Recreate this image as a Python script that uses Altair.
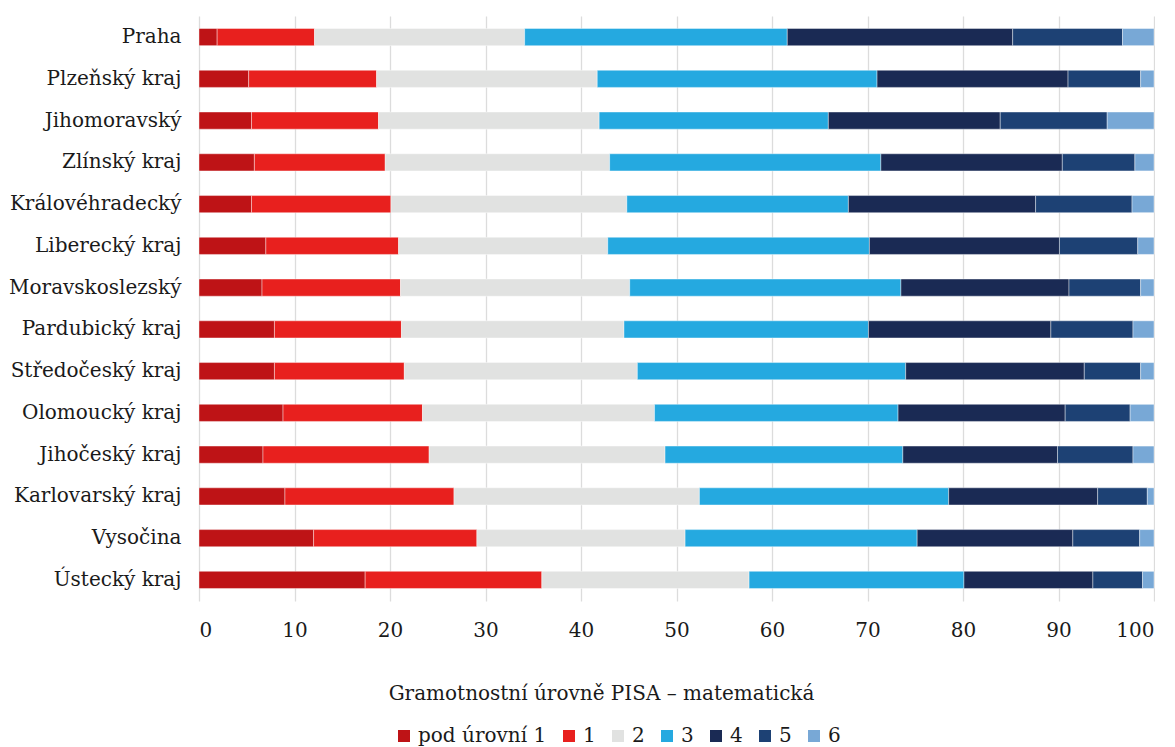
import altair as alt
import pandas as pd

regions = ["Praha", "Plzeňský kraj", "Jihomoravský", "Zlínský kraj", "Královéhradecký",
           "Liberecký kraj", "Moravskoslezský", "Pardubický kraj", "Středočeský kraj",
           "Olomoucký kraj", "Jihočeský kraj", "Karlovarský kraj", "Vysočina", "Ústecký kraj"]
levels = ["pod úrovní 1", "1", "2", "3", "4", "5", "6"]
colors = ["#BE1316", "#E8201E", "#E1E2E1", "#25A9E0", "#1A2A54", "#1D4174", "#78A8D6"]

lvl_pod1 = [1.9, 5.2, 5.5, 5.8, 5.5, 7.0, 6.6, 7.9, 7.9, 8.8, 6.7, 9.0, 12.0, 17.4]
lvl_1 = [10.2, 13.4, 13.3, 13.7, 14.6, 13.9, 14.5, 13.3, 13.6, 14.6, 17.4, 17.7, 17.1, 18.5]
lvl_2 = [22.0, 23.1, 23.1, 23.5, 24.7, 21.9, 24.0, 23.3, 24.4, 24.3, 24.7, 25.7, 21.8, 21.7]
lvl_3 = [27.5, 29.3, 24.0, 28.4, 23.2, 27.4, 28.4, 25.6, 28.1, 25.5, 24.9, 26.1, 24.3, 22.5]
lvl_4 = [23.6, 20.0, 18.0, 19.0, 19.6, 19.9, 17.6, 19.1, 18.7, 17.5, 16.2, 15.6, 16.3, 13.5]
lvl_5 = [11.5, 7.6, 11.2, 7.6, 10.1, 8.2, 7.5, 8.6, 5.9, 6.8, 7.9, 5.2, 7.0, 5.2]
lvl_6 = [3.3, 1.4, 4.9, 2.0, 2.3, 1.7, 1.4, 2.2, 1.4, 2.5, 2.2, 0.7, 1.5, 1.2]

series = [lvl_pod1, lvl_1, lvl_2, lvl_3, lvl_4, lvl_5, lvl_6]
rows = []
for li, (lvl, vals) in enumerate(zip(levels, series)):
    for r, v in zip(regions, vals):
        rows.append({"kraj": r, "uroven": lvl, "podil": v, "poradi": li})
df = pd.DataFrame(rows)

FONT = "DejaVu Serif"
FS = 20
TXT = "#1a1a1a"

chart = alt.Chart(df).mark_bar(stroke="white", strokeWidth=0.8, strokeOpacity=0.5).encode(
    y=alt.Y("kraj:N", sort=regions,
            scale=alt.Scale(paddingInner=0.59, paddingOuter=0.3),
            axis=alt.Axis(title=None, ticks=False, domain=False, labelPadding=18,
                          labelFont=FONT, labelFontSize=FS, labelColor=TXT, labelLimit=300)),
    x=alt.X("podil:Q", stack="zero",
            scale=alt.Scale(domain=[0, 100], nice=False),
            axis=alt.Axis(values=list(range(0, 101, 10)), ticks=False, domain=False,
                          grid=True, gridColor="#dcdcdc", gridWidth=1.3,
                          labelPadding=19, labelFont=FONT, labelFontSize=FS, labelColor=TXT,
                          title="Gramotnostní úrovně PISA – matematická",
                          titleFont=FONT, titleFontSize=FS, titleFontWeight="normal",
                          titleColor=TXT, titleX=402, titleY=98, titleAlign="center",
                          titleBaseline="alphabetic")),
    color=alt.Color("uroven:N", sort=levels,
                    scale=alt.Scale(domain=levels, range=colors),
                    legend=alt.Legend(title=None, orient="none", direction="horizontal",
                                      legendX=195, legendY=710, symbolType="square",
                                      symbolSize=144, symbolStrokeWidth=0, labelOffset=4,
                                      columnPadding=12, labelFont=FONT, labelFontSize=FS,
                                      labelColor=TXT, padding=0)),
    order=alt.Order("poradi:Q", sort="ascending"),
).properties(width=955, height=585, background="white",
             padding={"left": 0, "top": 8, "right": 0, "bottom": 0}
).configure(font=FONT).configure_view(stroke=None)

chart.save("out.html", embed_options={"renderer": "svg", "actions": False})
